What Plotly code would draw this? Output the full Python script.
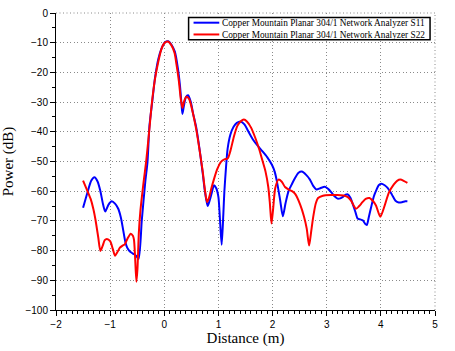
import plotly.graph_objects as go

# S11 (blue)
s11_x = [-1.50, -1.42, -1.35, -1.29, -1.23, -1.18, -1.13, -1.09, -1.03, -0.97, -0.91, -0.85, -0.80, -0.76,
         -0.72, -0.685, -0.64, -0.58, -0.52, -0.475, -0.415, -0.35, -0.31, -0.274, -0.22, -0.17, -0.11, -0.05,
         0.01, 0.073, 0.13, 0.195, 0.25, 0.29, 0.315, 0.335, 0.36, 0.40, 0.44, 0.49, 0.53, 0.59, 0.65, 0.71,
         0.75, 0.80, 0.84, 0.87, 0.92, 0.96, 1.0, 1.03, 1.06, 1.09, 1.11, 1.14, 1.17, 1.22, 1.28, 1.34, 1.41,
         1.48, 1.565, 1.64, 1.72, 1.81, 1.90, 1.99, 2.04, 2.08, 2.14, 2.19, 2.24, 2.295, 2.36, 2.42, 2.48,
         2.54, 2.62, 2.69, 2.75, 2.81, 2.88, 2.965, 3.03, 3.09, 3.15, 3.2, 3.25, 3.3, 3.35, 3.39, 3.44, 3.48,
         3.53, 3.57, 3.62, 3.665, 3.71, 3.74, 3.78, 3.82, 3.87, 3.91, 3.96, 4.01, 4.07, 4.12, 4.2, 4.27, 4.33,
         4.39, 4.45, 4.49]
s11_y = [-65.6, -60.5, -56.5, -55.3, -56.8, -60.0, -64.5, -66.8, -64.5, -63.4, -64.2, -65.9, -69.0, -73.0,
         -77.0, -79.0, -80.2, -81.0, -81.7, -82.8, -69.7, -56.6, -50.1, -38.0, -29.5, -21.7, -15.5, -11.9,
         -9.9, -9.5, -10.6, -13.0, -18.5, -24.5, -30.0, -34.0, -31.5, -28.3, -27.7, -30.0, -33.7, -38.5, -45.7, -54.0,
         -60.0, -65.0, -63.0, -61.0, -58.0, -59.0, -62.0, -70.0, -78.0, -68.0, -60.0, -52.0, -45.7, -41.0, -38.3, -37.0, -36.5,
         -37.5, -40.3, -42.7, -44.6, -46.5, -48.5, -51.2, -53.5, -56.7, -63.0, -68.4, -64.0, -60.0, -57.5, -55.4, -53.8,
         -53.4, -54.5, -56.1, -58.2, -59.4, -59.0, -58.5, -59.3, -60.5, -61.8, -62.5, -62.4, -61.9, -61.2, -61.1, -62.3, -64.3,
         -67.0, -69.2, -69.5, -69.8, -71.0, -71.4, -68.5, -65.4, -61.8, -59.9, -58.0, -57.5, -58.0, -58.8, -61.0, -63.2, -63.8,
         -63.7, -63.4, -63.4]

# S22 (red)
s22_x = [-1.50, -1.43, -1.36, -1.31, -1.27, -1.22, -1.18, -1.14, -1.10, -1.06, -1.0, -0.95, -0.91, -0.86, -0.82,
         -0.77, -0.73, -0.68, -0.62, -0.58, -0.56, -0.54, -0.515, -0.495, -0.47, -0.44, -0.38, -0.335, -0.28,
         -0.23, -0.17, -0.11, -0.05, 0.0, 0.06, 0.13, 0.19, 0.225, 0.27, 0.305, 0.335, 0.37, 0.41, 0.46, 0.52,
         0.59, 0.65, 0.71, 0.75, 0.79, 0.83, 0.87, 0.925, 0.98, 1.047, 1.11, 1.17, 1.22, 1.29, 1.35, 1.41, 1.47,
         1.53, 1.6, 1.68, 1.75, 1.81, 1.87, 1.92, 1.95, 1.98, 2.01, 2.05, 2.11, 2.17, 2.23, 2.30, 2.36, 2.42,
         2.51, 2.58, 2.63, 2.675, 2.71, 2.75, 2.80, 2.84, 2.93, 3.09, 3.2, 3.33, 3.39, 3.45, 3.54, 3.60, 3.66,
         3.72, 3.79, 3.85, 3.91, 3.99, 4.06, 4.15, 4.24, 4.30, 4.36, 4.43, 4.49]
s22_y = [-56.4, -59.5, -62.6, -66.0, -69.7, -75.5, -80.1, -78.5, -76.5, -76.1, -76.8, -79.5, -81.7, -80.3, -79.0,
         -78.3, -77.9, -76.0, -74.3, -75.0, -76.3, -82.0, -90.5, -86.0, -74.0, -66.4, -56.6, -50.0, -40.0,
         -30.4, -22.0, -16.3, -12.0, -10.2, -9.6, -10.8, -13.5, -17.3, -23.0, -29.0, -32.0, -29.5, -28.2, -29.0, -33.0,
         -39.2, -46.0, -53.4, -59.5, -63.7, -62.0, -59.0, -55.5, -52.5, -50.1, -49.3, -49.0, -46.5, -41.3, -38.0, -36.5, -35.9,
         -36.6, -38.5, -42.0, -45.7, -49.5, -53.4, -58.5, -64.0, -70.9, -66.0, -58.9, -56.1, -56.8, -58.6, -59.5, -60.0, -61.0,
         -64.5, -68.5, -72.5, -78.3, -74.0, -68.7, -64.0, -62.3, -61.5, -61.3, -61.3, -61.5, -62.0, -63.2, -65.9, -65.0, -63.7,
         -62.6, -62.3, -63.2, -64.8, -68.6, -65.4, -60.4, -57.7, -56.5, -56.1, -56.6, -57.2]

names = ["Copper Mountain Planar 304/1 Network Analyzer S11",
         "Copper Mountain Planar 304/1 Network Analyzer S22"]
colors = ["#0000ff", "#ff0000"]
x_ticks = [-2, -1, 0, 1, 2, 3, 4, 5]
y_ticks = [0, -10, -20, -30, -40, -50, -60, -70, -80, -90, -100]

fig = go.Figure()
fig.add_trace(go.Scatter(x=s11_x, y=s11_y, mode="lines", name=names[0],
                         line=dict(color=colors[0], width=2, shape="spline", smoothing=0.7)))
fig.add_trace(go.Scatter(x=s22_x, y=s22_y, mode="lines", name=names[1],
                         line=dict(color=colors[1], width=2, shape="spline", smoothing=0.7)))

GRID_COLOR = "#8a8a8a"
GRID_DASH = "1px,2.5px"
grid = dict(showgrid=True, gridcolor=GRID_COLOR, gridwidth=1, griddash=GRID_DASH, zeroline=False,
            showline=True, linecolor="black", linewidth=1, ticks="outside", ticklen=5,
            tickcolor="black", tickfont=dict(family="Liberation Sans", size=10, color="black"))

# dotted frame on top and right edges
fig.add_shape(type="line", xref="paper", yref="paper", x0=0, x1=1, y0=1, y1=1,
              line=dict(color=GRID_COLOR, width=1, dash=GRID_DASH))
fig.add_shape(type="line", xref="paper", yref="paper", x0=1, x1=1, y0=0, y1=1,
              line=dict(color=GRID_COLOR, width=1, dash=GRID_DASH))

# manual compact legend (box, line samples, labels)
W, H = 455, 351
ml, mr, mt, mb = 52, 20, 7, 39
pw, ph = W - ml - mr, H - mt - mb
def px(x):
    return (x - ml) / pw
def py(y):
    return 1 - (y - mt) / ph

FS = 9.3
yc = 23.0
gap = 1.3 * FS / 2
fig.add_shape(type="rect", xref="paper", yref="paper", x0=px(186), x1=px(430), y0=py(yc + 11.5), y1=py(yc - 11.5),
              line=dict(color="black", width=1.5), fillcolor="white", layer="above")
for i, c in enumerate(colors):
    yy = yc - gap + 2 * gap * i
    fig.add_shape(type="line", xref="paper", yref="paper", x0=px(191), x1=px(217), y0=py(yy), y1=py(yy),
                  line=dict(color=c, width=2), layer="above")
fig.add_annotation(xref="paper", yref="paper", x=px(219), y=py(yc), text="<br>".join(names), showarrow=False,
                   xanchor="left", yanchor="middle", align="left", borderpad=0,
                   font=dict(family="Liberation Serif", size=FS, color="black"))

fig.update_layout(
    width=W, height=H,
    margin=dict(l=ml, r=mr, t=mt, b=mb),
    paper_bgcolor="white", plot_bgcolor="white",
    showlegend=False,
    xaxis=dict(range=[-2, 5], tickvals=x_ticks, **grid,
               minor=dict(dtick=0.1, ticklen=3, ticks="outside", tickcolor="black", showgrid=False),
               title=dict(text="Distance (m)", font=dict(family="Liberation Serif", size=15, color="black"),
                          standoff=3)),
    yaxis=dict(range=[-100, 0], tickvals=y_ticks, **grid,
               minor=dict(dtick=5, ticklen=3, ticks="outside", tickcolor="black", showgrid=False),
               title=dict(text="Power (dB)", font=dict(family="Liberation Serif", size=15, color="black"),
                          standoff=8)),
)

fig.write_html("out.html")
